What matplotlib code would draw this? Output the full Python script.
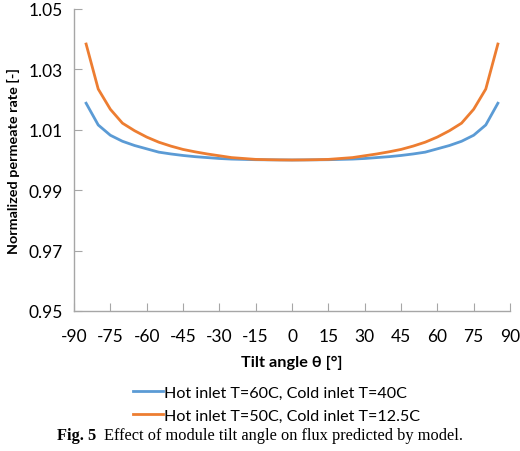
import matplotlib
matplotlib.use("Agg")
import matplotlib.pyplot as plt
import numpy as np

angles = [-85, -80, -75, -70, -65, -60, -55, -50, -45, -40, -35, -30, -25, -20, -15, -10, -5,
          0, 5, 10, 15, 20, 25, 30, 35, 40, 45, 50, 55, 60, 65, 70, 75, 80, 85]
half_blue = [1.0000, 1.00003, 1.00006, 1.0001, 1.0002, 1.0003, 1.0005, 1.0008, 1.0011,
             1.0015, 1.0020, 1.0026, 1.0037, 1.0048, 1.0062, 1.0082, 1.0116, 1.0188]
half_orange = [1.0000, 1.00003, 1.0001, 1.0002, 1.0005, 1.0008, 1.0014, 1.0020, 1.0027,
               1.0035, 1.0046, 1.0059, 1.0076, 1.0097, 1.0122, 1.0168, 1.0235, 1.0384]
series_blue = half_blue[:0:-1] + half_blue
series_orange = half_orange[:0:-1] + half_orange
labels = ["Hot inlet T=60C, Cold inlet T=40C", "Hot inlet T=50C, Cold inlet T=12.5C"]
xticks = list(range(-90, 91, 15))
yticks = [0.95, 0.97, 0.99, 1.01, 1.03, 1.05]

font = ["Lato", "DejaVu Sans"]
plt.rcParams['font.family'] = font

fig = plt.figure(figsize=(5.2, 4.52), dpi=100)
ax = fig.add_axes([74/520, 1-312/452, (510-74)/520, (312-10)/452])
l1, = ax.plot(angles, series_blue, color="#5B9BD5", lw=2)
l2, = ax.plot(angles, series_orange, color="#ED7D31", lw=2)
ax.set_xlim(-90, 90)
ax.set_ylim(0.95, 1.05)
ax.set_xticks(xticks)
ax.set_xticklabels([str(t) for t in xticks])
ax.set_yticks(yticks)
ax.set_yticklabels([f"{t:.2f}" for t in yticks])
for s in ["top", "right"]:
    ax.spines[s].set_visible(False)
for s in ["left", "bottom"]:
    ax.spines[s].set_color("#A6A6A6")
    ax.spines[s].set_linewidth(1)
ax.tick_params(direction="in", length=6, color="#A6A6A6", labelsize=12.5)
ax.tick_params(axis="x", pad=12)
ax.tick_params(axis="y", pad=8)
ax.set_xlabel("Tilt angle θ [°]", fontsize=11.7, fontweight="bold", labelpad=8)
ax.set_ylabel("Normalized permeate rate [-]", fontsize=10.4, fontweight="bold", labelpad=6)

fig.legend([l1, l2], labels, loc="center left", bbox_to_anchor=(133/520, 1-405/452),
           frameon=False, fontsize=11.6, handlelength=1.85, handletextpad=0.05,
           labelspacing=0.55, borderpad=0, borderaxespad=0)

fig.text(57/520, 1-436/452, "Fig. 5", family="Liberation Serif", fontweight="bold",
         fontsize=11.8, va="center", ha="left")
fig.text(104/520, 1-436/452, "Effect of module tilt angle on flux predicted by model.",
         family="Liberation Serif", fontsize=11.8, va="center", ha="left")

fig.savefig("out.png", dpi=100)
